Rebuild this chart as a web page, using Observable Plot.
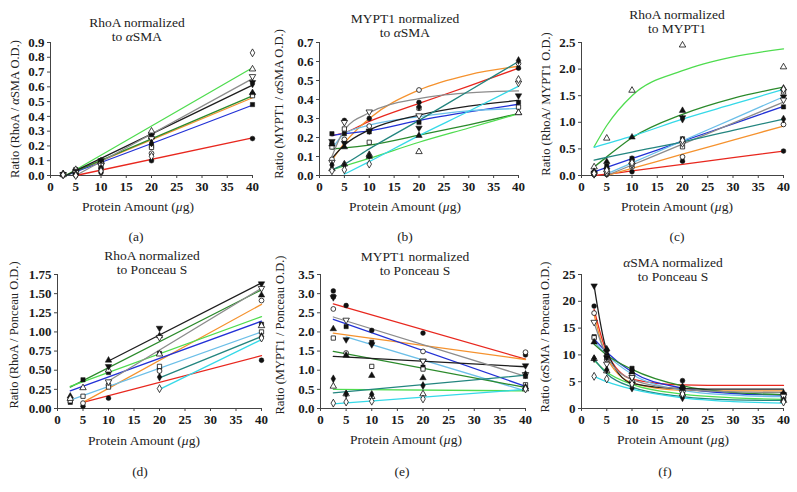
<!DOCTYPE html>
<html><head><meta charset="utf-8">
<script src="https://cdn.jsdelivr.net/npm/d3@7"></script>
<script src="https://cdn.jsdelivr.net/npm/@observablehq/plot@0.6"></script>
<style>
body{margin:0;background:#fff;}
#wrap{position:relative;width:797px;height:492px;overflow:hidden;font-family:"Liberation Serif","Times New Roman",Times,serif;color:#222;}
.p{position:absolute;}
.t{position:absolute;transform:translate(-50%,-50%);white-space:nowrap;font-size:13.5px;line-height:14px;text-align:center;}
.yl{position:absolute;transform:translate(-50%,-50%) rotate(-90deg);white-space:nowrap;font-size:12.5px;line-height:12px;}
</style></head><body><div id="wrap"></div>
<script>
// ---------- data ----------
const xs = [2.5, 5, 10, 20, 40];
const xTicks = [0, 5, 10, 15, 20, 25, 30, 35, 40];
const colors = ["#e8271e", "#f5922e", "#2231d6", "#6cbfe8", "#2b8a2b", "#4fdc4f", "#1e1e1e", "#8c8c8c", "#23857f", "#35d9e8"];
const symbols = ["circle", "circle", "square", "square", "triangle", "triangle", "triangle", "triangle", "diamond", "diamond"];
const filled = [true, false, true, false, true, false, true, false, true, false];
const rotation = [0, 0, 0, 0, 0, 0, 180, 180, 0, 0];

const titles1 = ["RhoA normalized", "MYPT1 normalized", "RhoA normalized", "RhoA normalized", "MYPT1 normalized", "<i>α</i>SMA normalized"];
const titles2 = ["to <i>α</i>SMA", "to <i>α</i>SMA", "to MYPT1", "to Ponceau S", "to Ponceau S", "to Ponceau S"];
const yLabels = ["Ratio (RhoA / <i>α</i>SMA O.D.)", "Ratio (MYPT1 / <i>α</i>SMA O.D.)", "Ratio (RhoA/ MYPT1 O.D.)",
                 "Ratio (RhoA / Ponceau O.D.)", "Ratio (MYPT1 / Ponceau O.D.)", "Ratio (<i>α</i>SMA / Ponceau O.D.)"];
const xLabel = "Protein Amount (<i>μ</i>g)";
const subLabels = ["(a)", "(b)", "(c)", "(d)", "(e)", "(f)"];

// (a)
const yTicksA = [0, 0.1, 0.2, 0.3, 0.4, 0.5, 0.6, 0.7, 0.8, 0.9];
const ptsA = [
  [0.005, 0.0, 0.02, 0.1, 0.25],
  [0.005, 0.01, 0.04, 0.15, 0.55],
  [0.008, 0.04, 0.1, 0.2, 0.48],
  [0.005, 0.03, 0.06, 0.19, 0.54],
  [0.01, 0.02, 0.1, 0.26, 0.56],
  [0.005, 0.04, 0.09, 0.3, 0.72],
  [0.008, 0.03, 0.1, 0.27, 0.63],
  [0.005, 0.02, 0.07, 0.25, 0.67],
  [0.01, 0.01, 0.05, 0.22, 0.62],
  [0.005, 0.0, 0.03, 0.13, 0.83]];
const fitXA = [3, 5, 40];
const fitA = [
  [null, 0, 0.255], [0, 0.028, 0.526], [0, 0.025, 0.476], null, [0, 0.029, 0.539],
  [0, 0.039, 0.729], [0, 0.033, 0.611], [null, 0, 0.656], null, null];

// (b)
const yTicksB = [0, 0.1, 0.2, 0.3, 0.4, 0.5, 0.6, 0.7];
const ptsB = [
  [0.17, 0.29, 0.3, 0.385, 0.565],
  [0.085, 0.19, 0.26, 0.45, 0.59],
  [0.22, 0.22, 0.23, 0.28, 0.385],
  [0.15, 0.245, 0.175, 0.355, 0.36],
  [0.165, 0.15, 0.1, 0.21, 0.33],
  [0.035, 0.06, 0.11, 0.125, 0.33],
  [0.18, 0.17, 0.235, 0.25, 0.42],
  [0.07, 0.28, 0.335, 0.315, 0.487],
  [0.055, 0.055, 0.105, 0.36, 0.605],
  [0.025, 0.03, 0.06, null, 0.505]];
const fitXB = [2.5, 5, 10, 20, 30, 40];
const fitB = [
  [0.21, 0.225, 0.285, 0.38, 0.47, 0.565],
  [0.08, 0.17, 0.3, 0.45, 0.53, 0.575],
  [0.21, 0.22, 0.235, 0.29, 0.335, 0.375],
  [0.14, 0.22, 0.265, 0.31, 0.34, 0.353],
  [0.14, 0.145, 0.16, 0.212, 0.267, 0.326],
  [0.03, 0.05, 0.09, 0.175, 0.25, 0.325],
  [0.09, 0.16, 0.24, 0.318, 0.365, 0.395],
  [0.1, 0.24, 0.33, 0.405, 0.435, 0.445],
  [0.03, 0.06, 0.14, 0.29, 0.445, 0.6],
  [null, 0.007, 0.073, 0.21, 0.338, 0.47]];

// (c)
const yTicksC = [0, 0.5, 1.0, 1.5, 2.0, 2.5];
const ptsC = [
  [0.02, 0.02, 0.07, 0.27, 0.46],
  [0.02, 0.03, 0.16, 0.35, 0.96],
  [0.05, 0.18, 0.32, 0.69, 1.29],
  [0.04, 0.05, 0.26, 0.54, 1.57],
  [0.07, 0.26, 0.72, 1.22, 1.64],
  [0.16, 0.7, 1.6, 2.45, 2.04],
  [0.05, 0.1, 0.2, 1.09, 1.48],
  [0.02, 0.05, 0.2, 0.6, 1.42],
  [0.07, 0.15, 0.3, 1.06, 1.06],
  [0.04, 0.1, 0.24, 0.66, 1.62]];
const fitXC = [2.5, 5, 10, 20, 30, 40];
const fitC = [
  [0, 0.025, 0.087, 0.21, 0.335, 0.46],
  [null, 0, 0.133, 0.4, 0.665, 0.93],
  [0.07, 0.152, 0.316, 0.644, 0.972, 1.3],
  [null, 0.03, 0.237, 0.651, 1.066, 1.48],
  [0.16, 0.35, 0.71, 1.15, 1.45, 1.66],
  [0.54, 0.94, 1.5, 1.97, 2.23, 2.38],
  null,
  [null, 0, 0.197, 0.591, 0.986, 1.38],
  [0.29, 0.34, 0.44, 0.63, 0.85, 1.06],
  [0.53, 0.6, 0.74, 1.06, 1.34, 1.62]];

// (d)
const yTicksD = [0, 0.25, 0.5, 0.75, 1.0, 1.25, 1.5, 1.75];
const ptsD = [
  [null, 0.03, 0.135, 0.52, 0.63],
  [null, 0.07, 0.31, 0.49, 1.41],
  [0.08, 0.375, 0.47, 0.72, 1.1],
  [0.1, 0.16, 0.28, 0.55, 1.0],
  [0.16, null, 0.63, 0.95, 1.48],
  [0.13, 0.27, 0.5, 0.71, 1.08],
  [null, null, 0.55, 1.05, 1.63],
  [null, null, 0.35, 0.93, 1.57],
  [null, null, null, 0.41, 0.94],
  [null, null, null, 0.26, 0.92]];
const fitXD = [2.5, 5, 10, 20, 40];
const fitD = [
  [null, 0.08, null, null, 0.69],
  [null, 0.08, null, null, 1.36],
  [0.23, null, null, null, 1.14],
  [0.11, null, null, null, 1.0],
  [0.28, null, null, null, 1.55],
  [0.29, null, null, null, 1.2],
  [null, null, 0.62, null, 1.64],
  [null, null, 0.36, null, 1.57],
  [null, null, null, 0.4, 0.94],
  [null, null, null, 0.25, 0.9]];

// (e)
const yTicksE = [0, 0.5, 1.0, 1.5, 2.0, 2.5, 3.0, 3.5];
const ptsE = [
  [3.07, 2.69, 2.04, 1.97, 1.4],
  [2.6, 1.45, null, 1.49, 1.47],
  [2.93, 2.14, 1.73, 1.08, 0.84],
  [1.84, null, 1.1, 1.03, 0.62],
  [2.08, 1.39, 0.86, 0.8, 0.56],
  [0.58, 0.38, 0.31, 0.38, 0.51],
  [2.9, 1.8, 1.67, 1.24, 1.12],
  [null, 2.31, null, 1.24, 0.89],
  [0.775, 0.38, 0.37, 0.6, 0.89],
  [0.14, 0.17, 0.19, 0.25, 0.51]];
const fitXE = [2.5, 5, 40];
const fitE = [
  [2.73, null, 1.29], [1.97, null, 1.28], [2.33, null, 0.58], [null, 1.87, 0.46], [1.49, null, 0.55],
  [0.5, null, 0.46], [1.36, null, 1.09], [2.39, null, 0.84], [0.41, null, 0.87], [0.12, null, 0.5]];

// (f)
const yTicksF = [0, 5, 10, 15, 20, 25];
const ptsF = [
  [19.1, 10.8, 7.1, 5.2, 2.3],
  [17.8, 9.1, 5.8, 3.5, 2.0],
  [13.4, 9.9, 7.5, 3.9, 2.6],
  [13.2, 9.5, 6.3, 3.0, 1.8],
  [12.4, 11.1, 6.8, 4.1, 2.9],
  [9.3, 7.0, 5.2, 2.7, 1.5],
  [22.9, 9.5, 4.6, 3.5, 2.6],
  [16.1, 8.3, 5.8, 3.0, 2.3],
  [9.3, 7.2, 3.8, 2.0, 1.5],
  [6.0, 5.5, 4.6, 2.7, 1.2]];
const fitXF = [2.5, 5, 10, 20, 30, 40];
const fitF = [
  [18.5, 10.5, 5.5, 4.4, 4.3, 4.3],
  [17.5, 9.5, 4.8, 3.4, 3.3, 3.3],
  [13, 10.5, 6.8, 3.8, 2.8, 2.5],
  [12.5, 10, 6.4, 3.4, 2.5, 2.2],
  [12, 10, 7.3, 4.2, 3.0, 2.6],
  [9, 6.8, 4.5, 2.7, 2.0, 1.7],
  [22.9, 10.8, 4.7, 3.7, 3.6, 3.6],
  [16, 9.8, 5.4, 3.6, 3.1, 3.0],
  [9.2, 6.5, 4.0, 2.2, 1.6, 1.5],
  [6, 5, 3.6, 2.0, 1.3, 1.0]];

// ---------- layout ----------
const panels = [
  {pts: ptsA, fitX: fitXA, fit: fitA, yTicks: yTicksA, fmt: ".1f", left: 0,   top: 0,   w: 265, h: 245, mt: 42, mb: 70, ml: 50, mr: 13,
   tx: 137, ty: 30, yl: [15, 109], xl: [138, 207], sl: [136, 237]},
  {pts: ptsB, fitX: fitXB, fit: fitB, yTicks: yTicksB, fmt: ".1f", left: 265, top: 0,   w: 265, h: 245, mt: 42, mb: 70, ml: 54, mr: 12,
   tx: 405, ty: 25.5, yl: [279, 104], xl: [405, 207], sl: [405, 237]},
  {pts: ptsC, fitX: fitXC, fit: fitC, yTicks: yTicksC, fmt: ".1f", left: 530, top: 0,   w: 267, h: 245, mt: 42, mb: 70, ml: 51, mr: 14,
   tx: 677, ty: 21.5, yl: [546, 104], xl: [677, 207], sl: [677, 237]},
  {pts: ptsD, fitX: fitXD, fit: fitD, yTicks: yTicksD, fmt: ".2f", left: 0,   top: 245, w: 265, h: 247, mt: 29, mb: 84, ml: 57, mr: 4,
   tx: 152, ty: 262.5, yl: [14, 335], xl: [144, 441], sl: [140, 472]},
  {pts: ptsE, fitX: fitXE, fit: fitE, yTicks: yTicksE, fmt: ".1f", left: 265, top: 245, w: 265, h: 247, mt: 29, mb: 84, ml: 55, mr: 5,
   tx: 415, ty: 263.5, yl: [280, 335], xl: [406, 440], sl: [402, 472]},
  {pts: ptsF, fitX: fitXF, fit: fitF, yTicks: yTicksF, fmt: "d",   left: 530, top: 245, w: 267, h: 247, mt: 29, mb: 84, ml: 51, mr: 14,
   tx: 673, ty: 270, yl: [545, 337], xl: [673, 440], sl: [665, 472]}
];

const wrap = document.getElementById("wrap");
function addText(cls, x, y, html) {
  const d = document.createElement("div");
  d.className = cls; d.style.left = x + "px"; d.style.top = y + "px"; d.innerHTML = html;
  wrap.appendChild(d);
}
const tickFont = {fontFamily: "Liberation Serif, Times New Roman, serif", fontSize: 13, fontWeight: "bold", fill: "#1a1a1a"};

panels.forEach((p, k) => {
  const marks = [
    Plot.axisX({ticks: xTicks, tickSize: 3, tickPadding: 3, label: null, stroke: "#444", ...tickFont}),
    Plot.axisY({ticks: p.yTicks, tickFormat: d3.format(p.fmt), tickSize: 3, tickPadding: 3, label: null, stroke: "#444", ...tickFont}),
    Plot.ruleX([0], {stroke: "#444", strokeWidth: 1}),
    Plot.ruleY([0], {stroke: "#444", strokeWidth: 1})
  ];
  p.fit.forEach((vals, i) => {
    if (!vals) return;
    const rows = [];
    vals.forEach((v, j) => { if (v != null) rows.push({x: p.fitX[j], y: v}); });
    marks.push(Plot.line(rows, {x: "x", y: "y", stroke: colors[i], strokeWidth: 1.3, curve: "monotone-x"}));
  });
  p.pts.forEach((vals, i) => {
    const rows = [];
    vals.forEach((v, j) => { if (v != null) rows.push({x: xs[j], y: v}); });
    marks.push(Plot.dot(rows, {
      x: "x", y: "y", symbol: symbols[i], r: 2.4, rotate: rotation[i],
      fill: filled[i] ? "#111" : "#fff", stroke: "#111", strokeWidth: filled[i] ? 0.5 : 0.8
    }));
  });
  const svg = Plot.plot({
    width: p.w, height: p.h,
    marginTop: p.mt, marginBottom: p.mb, marginLeft: p.ml, marginRight: p.mr,
    x: {domain: [0, 40]},
    y: {domain: [0, p.yTicks[p.yTicks.length - 1]]},
    style: {fontFamily: "Liberation Serif, Times New Roman, serif", fontSize: "13px", fontWeight: "bold",
            color: "#1a1a1a", background: "transparent", overflow: "visible"},
    marks
  });
  svg.classList.add("p");
  svg.style.left = p.left + "px"; svg.style.top = p.top + "px";
  wrap.appendChild(svg);

  addText("t", p.tx, p.ty, titles1[k] + "<br>" + titles2[k]);
  addText("yl", p.yl[0], p.yl[1], yLabels[k]);
  addText("t", p.xl[0], p.xl[1], xLabel);
  addText("t", p.sl[0], p.sl[1], subLabels[k]);
});
</script>
</body></html>
